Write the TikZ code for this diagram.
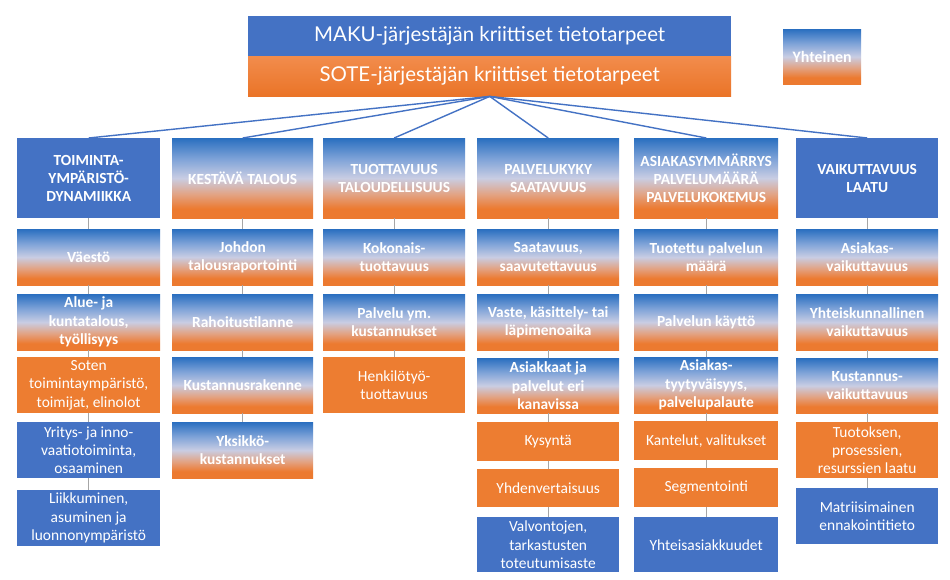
\documentclass[tikz,border=0pt]{standalone}
\usepackage{fontspec}
\setmainfont{Carlito}
\newfontfamily\titlefont{Lato}
\definecolor{mblue}{HTML}{4472C4}
\definecolor{morange}{HTML}{ED7D31}
\definecolor{torangetop}{HTML}{F28C4C}
\definecolor{torangebot}{HTML}{EA7428}
\definecolor{gblue}{HTML}{2A6FC0}
\definecolor{gmid}{HTML}{7FA3D8}
\definecolor{glight}{HTML}{C9CDE3}
\definecolor{gsalmon}{HTML}{E2A384}
\definecolor{gorange}{HTML}{EC7A30}
\definecolor{linkgrey}{HTML}{A6A6A6}
\pgfdeclareverticalshading{bo}{100bp}{color(0bp)=(gorange); color(31bp)=(gorange); color(40bp)=(gsalmon); color(50bp)=(glight); color(62bp)=(gmid); color(75bp)=(gblue); color(100bp)=(gblue)}
\tikzset{
  box/.style={draw=none, inner sep=1bp, align=center, text=white,
    font=\fontsize{15.5}{18.5}\selectfont},
  gbox/.style={box, shading=bo, font=\bfseries\fontsize{15.5}{18.5}\selectfont},
  obox/.style={box, fill=morange},
  bbox/.style={box, fill=mblue},
  bhead/.style={box, fill=mblue, font=\bfseries\fontsize{15.5}{18}\selectfont},
  ghead/.style={gbox, font=\bfseries\fontsize{15.5}{18}\selectfont},
  tblue/.style={box, fill=mblue, font=\titlefont\fontsize{20.5}{24}\selectfont},
  torange/.style={box, top color=torangetop, bottom color=torangebot, font=\titlefont\fontsize{20.5}{24}\selectfont},
  link/.style={draw=linkgrey, line width=0.8bp},
  fan/.style={draw=mblue, line width=1.4bp},
}
\newcommand\bx[7]{%
  \pgfmathsetmacro\bxw{#5-#3}\pgfmathsetmacro\bxh{#6-#4}%
  \node[#2, minimum width=\bxw bp, minimum height=\bxh bp, anchor=north west] (#1) at (#3,#4) {#7};}
\begin{document}
\begin{tikzpicture}[x=1bp, y=-1bp]
\path[fill=white, use as bounding box] (0,0) rectangle (950,580);
% title
\bx{maku}{tblue}{248}{16}{731}{56}{MAKU-järjestäjän kriittiset tietotarpeet}
\bx{sote}{torange}{248}{56}{731}{96}{SOTE-järjestäjän kriittiset tietotarpeet}
\bx{yht}{gbox, font=\bfseries\fontsize{16}{19}\selectfont}{783}{29}{861}{84}{Yhteinen}
% column 1
\bx{h1}{bhead}{17}{138}{160}{218}{TOIMINTA-\\YMPÄRISTÖ-\\DYNAMIIKKA}
\bx{a1}{gbox}{17}{229}{160}{285}{Väestö}
\bx{a2}{gbox}{17}{294}{160}{350}{Alue- ja\\kuntatalous,\\työllisyys}
\bx{a3}{obox}{17}{357}{160}{413}{Soten\\toimintaympäristö,\\toimijat, elinolot}
\bx{a4}{bbox}{17}{422}{160}{478}{Yritys- ja inno-\\vaatiotoiminta,\\osaaminen}
\bx{a5}{bbox}{17}{490}{160}{546}{Liikkuminen,\\asuminen ja\\luonnonympäristö}
% column 2
\bx{h2}{ghead}{172}{138}{313}{218}{KESTÄVÄ TALOUS}
\bx{b1}{gbox}{172}{229}{313}{285}{Johdon\\talousraportointi}
\bx{b2}{gbox}{172}{294}{313}{350}{Rahoitustilanne}
\bx{b3}{gbox}{172}{357}{313}{413}{Kustannusrakenne}
\bx{b4}{gbox}{172}{422}{313}{478}{Yksikkö-\\kustannukset}
% column 3
\bx{h3}{ghead}{323}{138}{465}{218}{TUOTTAVUUS\\TALOUDELLISUUS}
\bx{c1}{gbox}{323}{229}{465}{285}{Kokonais-\\tuottavuus}
\bx{c2}{gbox}{323}{294}{465}{350}{Palvelu ym.\\kustannukset}
\bx{c3}{obox}{323}{357}{465}{413}{Henkilötyö-\\tuottavuus}
% column 4
\bx{h4}{ghead}{477}{138}{619}{218}{PALVELUKYKY\\SAATAVUUS}
\bx{d1}{gbox}{477}{229}{619}{285}{Saatavuus,\\saavutettavuus}
\bx{d2}{gbox}{477}{294}{619}{350}{Vaste, käsittely- tai\\läpimenoaika}
\bx{d3}{gbox}{477}{358}{619}{413}{Asiakkaat ja\\palvelut eri\\kanavissa}
\bx{d4}{obox}{477}{422}{619}{461}{Kysyntä}
\bx{d5}{obox}{477}{469}{619}{507}{Yhdenvertaisuus}
\bx{d6}{bbox}{477}{517}{619}{572}{Valvontojen,\\tarkastusten\\toteutumisaste}
% column 5
\bx{h5}{ghead}{634}{138}{778}{218}{ASIAKASYMMÄRRYS\\PALVELUMÄÄRÄ\\PALVELUKOKEMUS}
\bx{e1}{gbox}{634}{229}{778}{285}{Tuotettu palvelun\\määrä}
\bx{e2}{gbox}{634}{294}{778}{350}{Palvelun käyttö}
\bx{e3}{gbox}{634}{357}{778}{413}{Asiakas-\\tyytyväisyys,\\palvelupalaute}
\bx{e4}{obox}{634}{421}{778}{460}{Kantelut, valitukset}
\bx{e5}{obox}{634}{468}{778}{507}{Segmentointi}
\bx{e6}{bbox}{634}{517}{778}{572}{Yhteisasiakkuudet}
% column 6
\bx{h6}{bhead}{796}{138}{938}{218}{VAIKUTTAVUUS\\LAATU}
\bx{f1}{gbox}{796}{229}{938}{285}{Asiakas-\\vaikuttavuus}
\bx{f2}{gbox}{796}{294}{938}{350}{Yhteiskunnallinen\\vaikuttavuus}
\bx{f3}{gbox}{796}{358}{938}{413}{Kustannus-\\vaikuttavuus}
\bx{f4}{obox}{796}{422}{938}{478}{Tuotoksen,\\prosessien,\\resurssien laatu}
\bx{f5}{bbox}{796}{488}{938}{544}{Matriisimainen\\ennakointitieto}
% fan connectors
\foreach \h in {h1,h2,h3,h4,h5,h6} \draw[fan] (sote.south) -- (\h.north);
% column links
\foreach \p/\q in {h1/a1,a1/a2,a2/a3,a3/a4,a4/a5,
                   h2/b1,b1/b2,b2/b3,b3/b4,
                   h3/c1,c1/c2,c2/c3,
                   h4/d1,d1/d2,d2/d3,d3/d4,d4/d5,d5/d6,
                   h5/e1,e1/e2,e2/e3,e3/e4,e4/e5,e5/e6,
                   h6/f1,f1/f2,f2/f3,f3/f4,f4/f5}
  \draw[link] (\p.south) -- (\q.north);
\end{tikzpicture}
\end{document}
